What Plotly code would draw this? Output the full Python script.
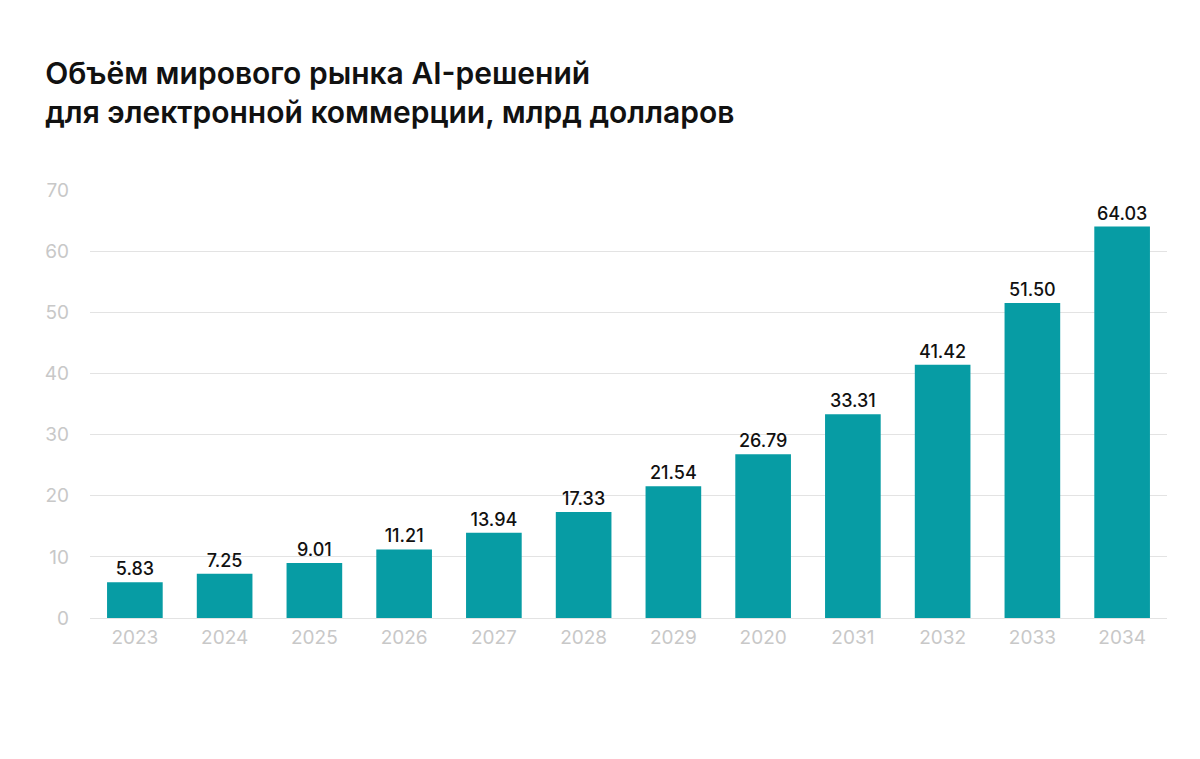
import plotly.graph_objects as go

years = ["2023", "2024", "2025", "2026", "2027", "2028", "2029", "2020", "2031", "2032", "2033", "2034"]
values = [5.83, 7.25, 9.01, 11.21, 13.94, 17.33, 21.54, 26.79, 33.31, 41.42, 51.50, 64.03]
labels = ["5.83", "7.25", "9.01", "11.21", "13.94", "17.33", "21.54", "26.79", "33.31", "41.42", "51.50", "64.03"]
y_ticks = [0, 10, 20, 30, 40, 50, 60, 70]

fig = go.Figure(go.Bar(
    x=years, y=values, text=labels, textposition="outside",
    marker=dict(color="#079ca4", line=dict(width=0)),
    textfont=dict(color="#111111", size=18, family="Inter", weight=500),
    cliponaxis=False,
))

fig.update_layout(
    width=1200, height=759,
    paper_bgcolor="white", plot_bgcolor="white",
    margin=dict(l=82, r=41, t=182, b=149),
    bargap=0.38,
    showlegend=False,
    font=dict(family="Inter"),
    title=dict(
        text="Объём мирового рынка AI-решений<br>для электронной коммерции, млрд долларов",
        x=0.031, xanchor="left", y=0.90, yanchor="top",
        font=dict(size=30, color="#111111", family="Inter", weight=600),
    ),
    xaxis=dict(
        type="category", showgrid=False, showline=False, ticks="",
        tickfont=dict(size=19, color="#c8c8c8"),
        ticklabelstandoff=6,
    ),
    yaxis=dict(
        range=[0, 70], tickvals=y_ticks, showgrid=True, gridcolor="#e3e3e3", gridwidth=1,
        zeroline=True, zerolinecolor="#e3e3e3", zerolinewidth=1,
        showline=False, ticks="", tickfont=dict(size=19, color="#c8c8c8"),
        ticklabelstandoff=20,
    ),
)

fig.write_html("out.html")
